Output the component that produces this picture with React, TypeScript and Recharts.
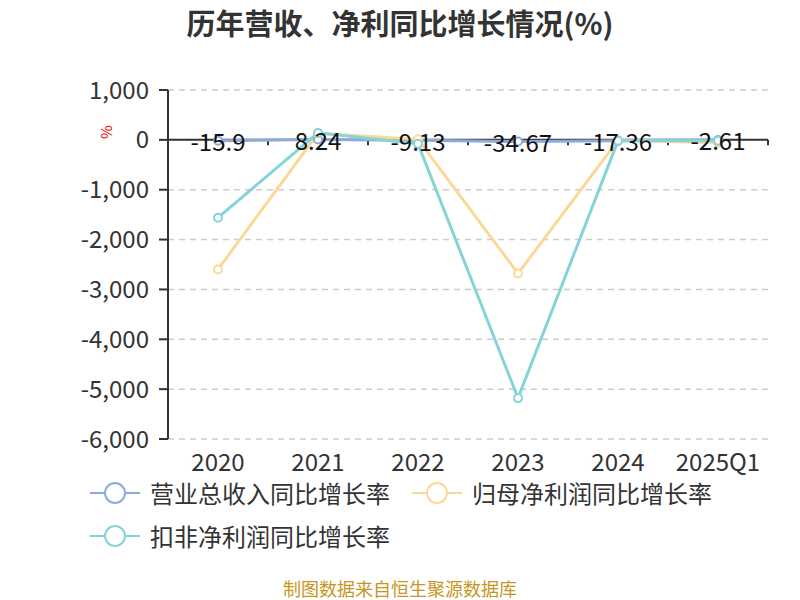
import React from 'react';
import { LineChart, Line, XAxis, YAxis, CartesianGrid, ReferenceLine, LabelList, Legend } from 'recharts';

const categories = ['2020', '2021', '2022', '2023', '2024', '2025Q1'];
const revenueGrowth = [-15.9, 8.24, -9.13, -34.67, -17.36, -2.61];
const netProfitGrowth = [-2600, 130, 10, -2680, -10, -60];
const deductedProfitGrowth = [-1560, 140, -80, -5180, -20, -20];
const yTicks = [1000, 0, -1000, -2000, -3000, -4000, -5000, -6000];
const boundaries = [0.5, 1.5, 2.5, 3.5, 4.5, 5.5];

const seriesNames = ['营业总收入同比增长率', '归母净利润同比增长率', '扣非净利润同比增长率'];
const colors = ['#8eaadc', '#fcd898', '#86d3d8'];

const data = categories.map((c, i) => ({
  idx: i,
  name: c,
  rev: revenueGrowth[i],
  net: netProfitGrowth[i],
  ded: deductedProfitGrowth[i],
}));

const FONT = '"Noto Sans CJK SC", "Noto Sans", sans-serif';

const fmt = (v: number) => v.toLocaleString('en-US');

const LegendContent = () => {
  const item = (i: number) => (
    <div key={i} style={{ display: 'flex', alignItems: 'center', marginRight: 22 }}>
      <svg width={50} height={26} style={{ marginRight: 10 }}>
        <line x1={0} y1={13} x2={50} y2={13} stroke={colors[i]} strokeWidth={2} />
        <circle cx={25} cy={13} r={10} fill="#fff" stroke={colors[i]} strokeWidth={2} />
      </svg>
      <span style={{ fontSize: 24, color: '#333', fontFamily: FONT, whiteSpace: 'nowrap' }}>{seriesNames[i]}</span>
    </div>
  );
  return (
    <div style={{ width: 700 }}>
      <div style={{ display: 'flex', height: 43, alignItems: 'center' }}>{item(0)}{item(1)}</div>
      <div style={{ display: 'flex', height: 43, alignItems: 'center' }}>{item(2)}</div>
    </div>
  );
};

const RevLabel = (props: any) => {
  const { x, y, value } = props;
  return (
    <text x={x} y={y} textAnchor="middle" dominantBaseline="central" fontSize={24} fill="#111" fontFamily={FONT}>
      {value}
    </text>
  );
};

export default function App() {
  return (
    <div style={{ position: 'absolute', left: 0, top: 0, width: 800, height: 600, background: '#fff', fontFamily: FONT }}>
      <div style={{ position: 'absolute', top: 0, left: 0, width: 800, textAlign: 'center', fontSize: 29, lineHeight: '44px', fontWeight: 'bold', color: '#333' }}>
        历年营收、净利同比增长情况(%)
      </div>
      <LineChart width={800} height={600} data={data} margin={{ top: 90, right: 32, bottom: 121, left: 0 }}>
        <CartesianGrid horizontal vertical={false} stroke="#ccc" strokeDasharray="6 5" strokeWidth={1.5} />
        <XAxis
          dataKey="idx"
          type="number"
          domain={[-0.5, 5.5]}
          ticks={[0, 1, 2, 3, 4, 5]}
          tickFormatter={(v: number) => categories[v]}
          axisLine={false}
          tickLine={false}
          height={40}
          tick={{ fontSize: 24, fill: '#333', fontFamily: FONT }}
          tickMargin={9}
        />
        <YAxis
          type="number"
          domain={[-6000, 1000]}
          ticks={yTicks}
          interval={0}
          width={168}
          tickFormatter={fmt}
          axisLine={{ stroke: '#333', strokeWidth: 2 }}
          tickLine={{ stroke: '#333', strokeWidth: 2 }}
          tickSize={9}
          tickMargin={10}
          tick={{ fontSize: 24, fill: '#333', fontFamily: FONT }}
          label={(p: any) => (
            <text x={105} y={132} transform="rotate(-90 105 132)" textAnchor="middle" dominantBaseline="central" fontSize={15} fill="#e00" fontFamily={FONT}>
              %
            </text>
          )}
        />
        <ReferenceLine y={0} stroke="#333" strokeWidth={2} ifOverflow="extendDomain" />
        {boundaries.map((b) => (
          <ReferenceLine
            key={b}
            segment={[{ x: b, y: 0 }, { x: b, y: -110 }]}
            stroke="#333"
            strokeWidth={2}
          />
        ))}
        <Line dataKey="rev" stroke={colors[0]} strokeWidth={3} isAnimationActive={false}
          dot={{ r: 4, fill: '#fff', stroke: colors[0], strokeWidth: 2 }} />
        <Line dataKey="net" stroke={colors[1]} strokeWidth={3} isAnimationActive={false}
          dot={{ r: 4, fill: '#fff', stroke: colors[1], strokeWidth: 2 }} />
        <Line dataKey="ded" stroke={colors[2]} strokeWidth={3} isAnimationActive={false}
          dot={{ r: 4, fill: '#fff', stroke: colors[2], strokeWidth: 2 }} />
        <Line dataKey="rev" stroke="none" dot={false} activeDot={false} isAnimationActive={false} legendType="none">
          <LabelList dataKey="rev" content={RevLabel} />
        </Line>
        <Legend
          layout="vertical"
          align="center"
          verticalAlign="middle"
          content={LegendContent}
          wrapperStyle={{ position: 'absolute', top: 471, left: 90, width: 700 }}
        />
      </LineChart>
      <div style={{ position: 'absolute', top: 577, left: 0, width: 800, textAlign: 'center', fontSize: 18, lineHeight: '22px', color: '#c8961e' }}>
        制图数据来自恒生聚源数据库
      </div>
    </div>
  );
}
